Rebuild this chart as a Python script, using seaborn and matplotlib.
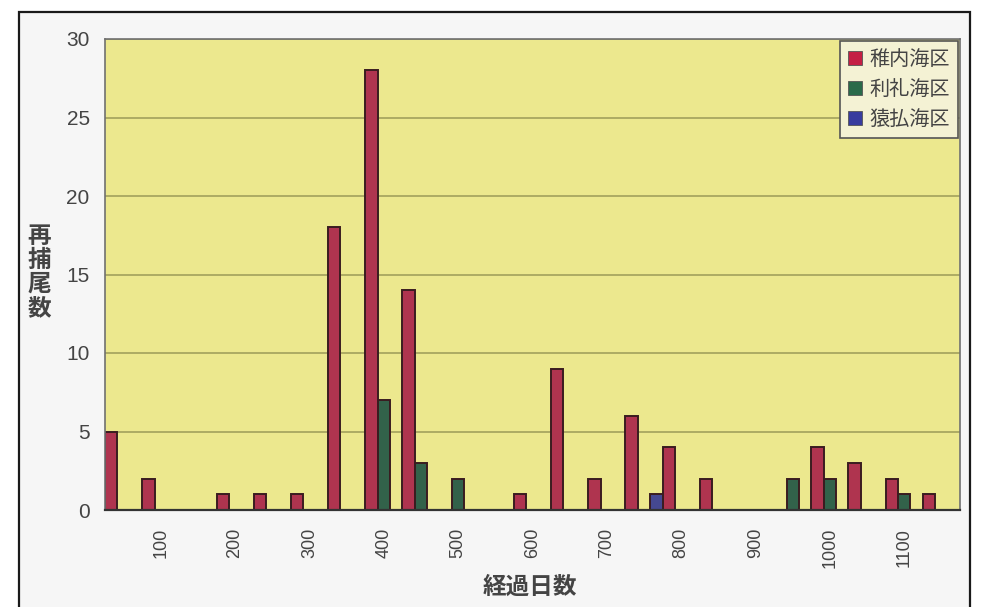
import matplotlib
matplotlib.use("Agg")
import matplotlib.pyplot as plt
import seaborn as sns
import pandas as pd
from matplotlib.patches import Rectangle, Patch

# elapsed days since release (50-day bins)
days = [50, 100, 150, 200, 250, 300, 350, 400, 450, 500, 550, 600,
        650, 700, 750, 800, 850, 900, 950, 1000, 1050, 1100, 1150]
tick_labels = ["", "100", "", "200", "", "300", "", "400", "", "500", "", "600",
               "", "700", "", "800", "", "900", "", "1000", "", "1100", ""]

areas = ["稚内海区", "利礼海区", "猿払海区"]
wakkanai = [5, 2, 0, 1, 1, 1, 18, 28, 14, 0, 0, 1, 9, 2, 6, 4, 2, 0, 0, 4, 3, 2, 1]
rishiri = [0, 0, 0, 0, 0, 0, 0, 7, 3, 2, 0, 0, 0, 0, 0, 0, 0, 0, 2, 2, 0, 1, 0]
sarufutsu = [0, 0, 0, 0, 0, 0, 0, 0, 0, 0, 0, 0, 0, 0, 1, 0, 0, 0, 0, 0, 0, 0, 0]
colors = ["#c41f44", "#2a6a4a", "#383c9e"]

rows = []
for area, vals in zip(areas, [wakkanai, rishiri, sarufutsu]):
    for d, v in zip(days, vals):
        rows.append({"経過日数": str(d), "再捕尾数": v, "海区": area})
df = pd.DataFrame(rows)

sns.set_theme(style="white")
plt.rcParams["font.family"] = ["Noto Sans CJK JP", "DejaVu Sans"]

W, H = 985, 607
fig = plt.figure(figsize=(W / 100, H / 100), dpi=100)
fig.patch.set_facecolor("white")

# light panel with a dark border behind the chart
fig.patches.append(Rectangle((19 / W, -0.02), (970 - 19) / W, 1 - 12 / H + 0.02,
                             transform=fig.transFigure, facecolor="#f6f6f6",
                             edgecolor="#1a1a1a", linewidth=1.6, zorder=-10))

ax = fig.add_axes([105 / W, 1 - 510 / H, (960 - 105) / W, (510 - 39) / H])
ax.set_facecolor("#ece88e")

sns.barplot(data=df, x="経過日数", y="再捕尾数", hue="海区",
            order=[str(d) for d in days], hue_order=areas, palette=colors,
            width=1.0, gap=0, edgecolor="#3a1c20", linewidth=1.4,
            ax=ax, legend=False, errorbar=None)

ax.set_ylim(0, 30)
ax.set_xlim(-0.5, len(days) - 0.5)
ax.set_yticks([0, 5, 10, 15, 20, 25, 30])
ax.set_xticks(range(len(days)))
ax.set_xticklabels(tick_labels, rotation=90, fontsize=13, color="#444444",
                   family=["Liberation Sans", "DejaVu Sans"])
ax.set_yticklabels(["0", "5", "10", "15", "20", "25", "30"], fontsize=15,
                   color="#444444", family=["Liberation Sans", "DejaVu Sans"])
ax.tick_params(axis="y", length=0, pad=11)
ax.tick_params(axis="x", length=0, pad=13)

ax.yaxis.grid(True, color="#9c9a58", linewidth=1.1)
ax.xaxis.grid(False)
ax.set_axisbelow(True)

for side in ["top", "right", "left"]:
    ax.spines[side].set_color("#707070")
    ax.spines[side].set_linewidth(1.2)
ax.spines["bottom"].set_color("#333333")
ax.spines["bottom"].set_linewidth(1.6)

ax.set_xlabel("")
ax.set_ylabel("")
fig.text(530 / W, 1 - 587 / H, "経過日数", ha="center", va="center",
         fontsize=17, color="#444444", fontweight="bold")
fig.text(39 / W, 1 - 272 / H, "再\n捕\n尾\n数", ha="center", va="center",
         fontsize=17, color="#444444", fontweight="bold", linespacing=1.0)

handles = [Patch(facecolor=c, edgecolor="#555555", linewidth=0.6) for c in colors]
leg = ax.legend(handles, areas, loc="upper right", borderaxespad=0.1,
                frameon=True, fancybox=False, fontsize=14.5,
                handlelength=0.7, handleheight=0.7, handletextpad=0.35,
                labelspacing=0.45, borderpad=0.4)
leg.get_frame().set_facecolor("#f4f2d4")
leg.get_frame().set_edgecolor("#555555")
leg.get_frame().set_linewidth(1.2)
leg.get_frame().set_alpha(1.0)
for t in leg.get_texts():
    t.set_color("#444444")

fig.savefig("out.png", dpi=100)
